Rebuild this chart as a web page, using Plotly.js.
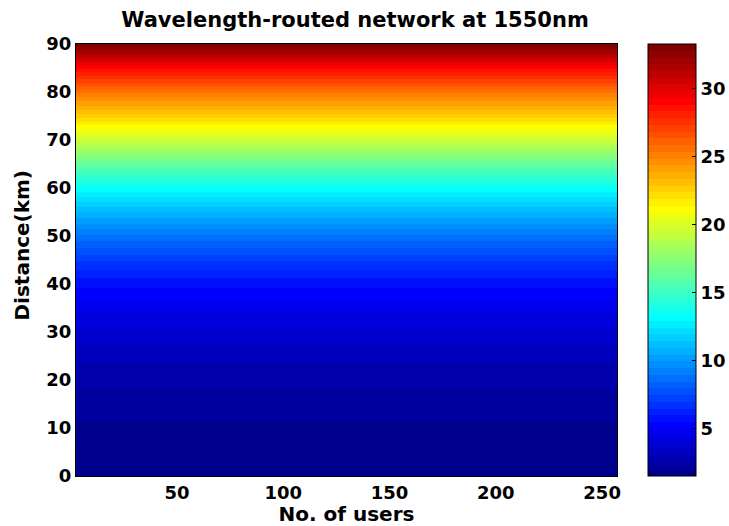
<!DOCTYPE html>
<html>
<head>
<meta charset="utf-8">
<script src="https://cdn.plot.ly/plotly-3.0.1.min.js"></script>
<style>
  html, body { margin: 0; padding: 0; background: #fff; }
  #chart { width: 729px; height: 526px; }
</style>
</head>
<body>
<div id="chart"></div>
<script>
// Distance steps along the link (km)
const distanceKm = [0, 5, 10, 15, 20, 25, 30, 35, 40, 45, 50, 55, 60, 65, 70, 75, 80, 85, 90];
// Colour-mapped quantity at each distance (same for every user count)
const profile = [1.49, 1.6, 1.9, 2.2, 2.6, 3.1, 3.8, 4.6, 5.6, 7.0, 8.8, 10.9, 13.3, 16.2, 19.4, 22.5, 25.4, 28.8, 33.26];
// Number of users sampled along the horizontal axis
const users = [1, 64, 128, 192, 256];
// Tick labels
const xTicks = [50, 100, 150, 200, 250];
const yTicks = [0, 10, 20, 30, 40, 50, 60, 70, 80, 90];
const cbTicks = [5, 10, 15, 20, 25, 30];

// Grid of values: one row per distance, repeated across user counts
const z = profile.map(v => users.map(() => v));
const zmin = Math.min(...profile);
const zmax = Math.max(...profile);

// MATLAB-style jet(64) colormap as stepped colour stops
function jet(m) {
  const n = Math.ceil(m / 4);
  const u = [];
  for (let i = 1; i <= n; i++) u.push(i / n);
  for (let i = 1; i < n; i++) u.push(1);
  for (let i = n; i >= 1; i--) u.push(i / n);
  const off = Math.ceil(n / 2) - (m % 4 === 1 ? 1 : 0);
  const J = Array.from({length: m}, () => [0, 0, 0]);
  const g = u.map((_, i) => off + i + 1);
  const r = g.map(x => x + n).filter(x => x <= m);
  const b = g.map(x => x - n).filter(x => x >= 1);
  r.forEach((idx, i) => { J[idx - 1][0] = u[i]; });
  g.forEach((idx, i) => { if (idx <= m) J[idx - 1][1] = u[i]; });
  b.forEach((idx, i) => { J[idx - 1][2] = u[u.length - b.length + i]; });
  return J;
}
const cmap = jet(64);
const colorscale = [];
cmap.forEach((c, i) => {
  const col = 'rgb(' + c.map(v => Math.round(v * 255)).join(',') + ')';
  colorscale.push([i / 64, col]);
  colorscale.push([(i + 1) / 64, col]);
});

const family = '"DejaVu Sans", Arial, sans-serif';
const font = {family: family, size: 18, color: '#000', weight: 'bold'};
const labelFont = {family: family, size: 20, color: '#000', weight: 'bold'};
const titleFont = {family: family, size: 21, color: '#000', weight: 'bold'};

const plotW = 541;           // plot area width in px
const plotH = 432;           // plot area height in px
const cbX = 1.0573;          // colorbar left edge (paper)
const cbThick = 48;

// Small tick marks on the left edge of the colour bar
const shapes = cbTicks.map(v => ({
  type: 'line', xref: 'paper', yref: 'paper',
  x0: cbX, x1: cbX + 4 / plotW,
  y0: (v - zmin) / (zmax - zmin), y1: (v - zmin) / (zmax - zmin),
  line: {color: '#000', width: 1}
}));

const trace = {
  type: 'heatmap',
  x: users,
  y: distanceKm,
  z: z,
  zmin: zmin,
  zmax: zmax,
  zsmooth: 'best',
  colorscale: colorscale,
  showscale: true,
  hoverinfo: 'skip',
  colorbar: {
    x: cbX, xanchor: 'left', xpad: 0,
    y: 0.5, yanchor: 'middle', ypad: 0,
    len: 1, lenmode: 'fraction',
    thickness: cbThick, thicknessmode: 'pixels',
    outlinewidth: 1, outlinecolor: '#000',
    tickvals: cbTicks,
    ticks: 'inside', ticklen: 4, tickcolor: '#000',
    tickfont: font
  }
};

const layout = {
  width: 729, height: 526,
  margin: {l: 76, r: 112, t: 44, b: 50, autoexpand: false},
  paper_bgcolor: '#fff', plot_bgcolor: '#fff',
  font: font,
  title: {text: 'Wavelength-routed network at 1550nm', font: titleFont, x: 0.487, xanchor: 'center', y: 0.963, yanchor: 'middle'},
  xaxis: {
    range: [2.5, 257], tickvals: xTicks, ticks: '', showgrid: false, zeroline: false,
    showline: true, linecolor: '#000', linewidth: 1, mirror: true,
    tickfont: font,
    title: {text: 'No. of users', font: labelFont, standoff: 0}
  },
  yaxis: {
    range: [0, 90], tickvals: yTicks, ticks: '', showgrid: false, zeroline: false,
    showline: true, linecolor: '#000', linewidth: 1, mirror: true,
    tickfont: font
  },
  annotations: [{
    text: 'Distance(km)', font: labelFont, textangle: -90, showarrow: false,
    xref: 'paper', yref: 'paper',
    x: (21 - 76) / plotW, xanchor: 'center',
    y: (476 - 245.5) / plotH, yanchor: 'middle'
  }],
  shapes: shapes
};

Plotly.newPlot('chart', [trace], layout, {staticPlot: true, displayModeBar: false});
</script>
</body>
</html>
